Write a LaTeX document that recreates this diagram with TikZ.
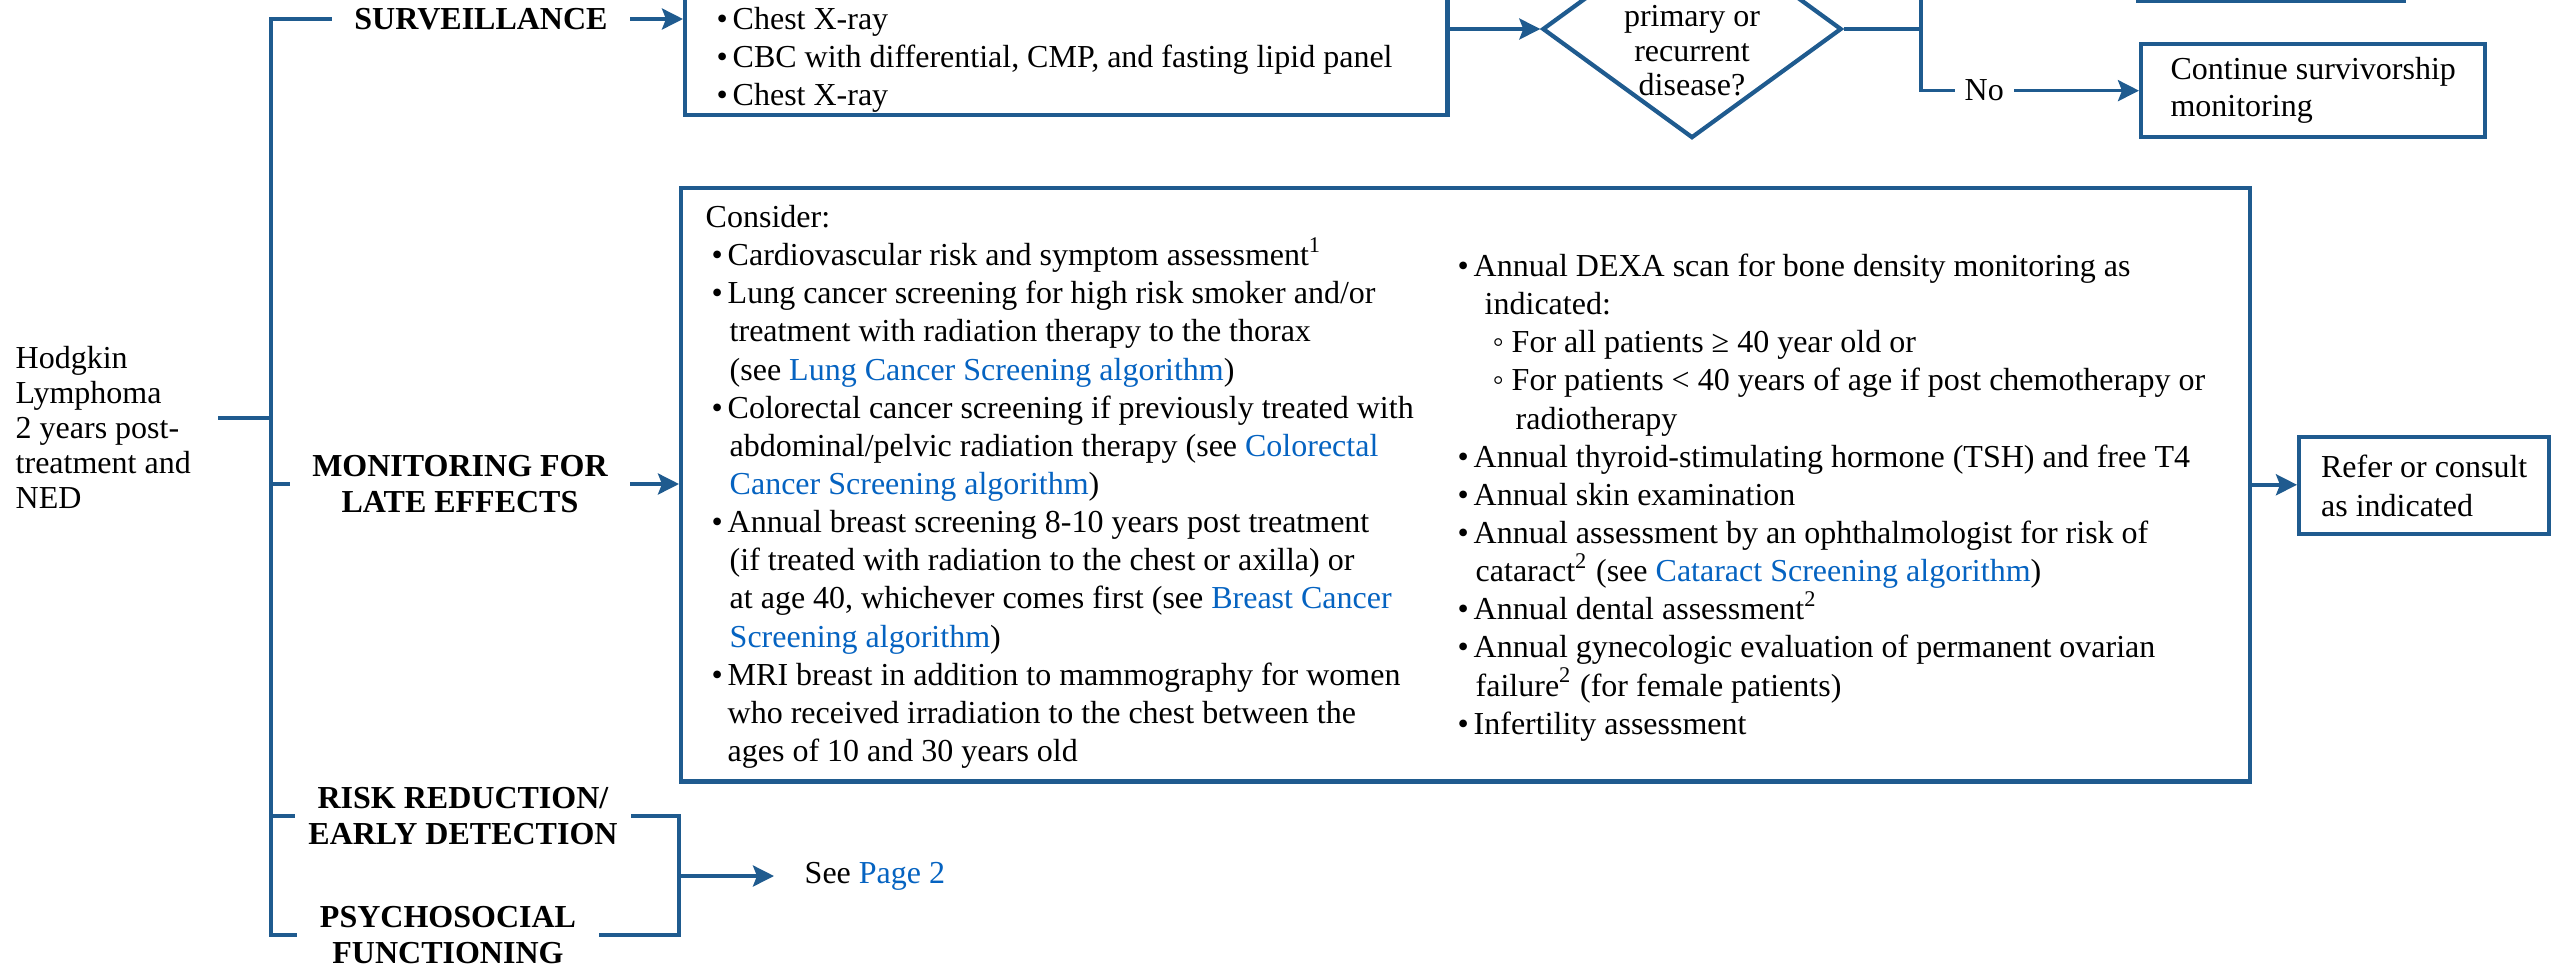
\documentclass[tikz,border=0pt]{standalone}
\usepackage{fontspec}
\setmainfont{Liberation Serif}
\usetikzlibrary{arrows.meta,shapes.geometric}
\definecolor{flowblue}{RGB}{31,91,143}
\definecolor{linkblue}{RGB}{5,99,193}
\newcommand{\lnk}[1]{\textcolor{linkblue}{#1}}
\newcommand{\bl}{\makebox[0.16cm][l]{\textbullet}}
\newcommand{\sbl}{\makebox[0.19cm][l]{◦}}
\newcommand{\fn}[1]{\smash{\textsuperscript{#1}}}
\newcommand{\bodyfont}{\fontsize{9.1pt}{10.85pt}\selectfont}
\newcommand{\headfont}{\fontsize{9.1pt}{10pt}\selectfont\bfseries}

\begin{document}
\begin{tikzpicture}[x=0.01cm,y=-0.01cm,
  line/.style={draw=flowblue,line width=1pt},
  arr/.style={line,-{Stealth[length=0.21cm,width=0.21cm,inset=0.04cm]}},
  box/.style={draw=flowblue,line width=1.2pt,inner sep=0,anchor=north west},
  plain/.style={font=\bodyfont,inner sep=0,align=left,anchor=north west},
  head/.style={font=\headfont,align=center,inner ysep=0,inner xsep=0.22cm}]
\useasboundingbox (0,0) rectangle (2553,966);
\clip (0,0) rectangle (2553,966);

\node[plain,inner xsep=0.27cm,font=\fontsize{9.1pt}{10pt}\selectfont] (hod) at (-12,343) {\strut Hodgkin\\Lymphoma\\2 years post-\\treatment and\\NED};

\node[head] (sv) at (481,19) {SURVEILLANCE};
\node[head] (mon) at (460,484) {MONITORING FOR\\LATE EFFECTS};
\node[head,inner xsep=0.13cm] (risk) at (463,816) {RISK REDUCTION/\\EARLY DETECTION};
\node[head] (psy) at (448,935) {PSYCHOSOCIAL\\FUNCTIONING};

\node[box,anchor=south west,minimum width=7.62cm,minimum height=1.8cm] (sbox) at (683,117) {};
\node[plain] (stxt) at (716,2) {\strut\bl Chest X-ray\\\bl CBC with differential, CMP, and fasting lipid panel\\\bl Chest X-ray};

\node[diamond,draw=flowblue,line width=1.2pt,inner sep=0,minimum width=2.99cm,minimum height=2.18cm,aspect=1.37] (dec) at (1692,29) {};
\node[font=\fontsize{9.1pt}{9.8pt}\selectfont,align=center,inner sep=0] (dtxt) at (1692,51) {primary or\\recurrent\\disease?};

\node[box,anchor=south west,minimum width=2.66cm,minimum height=0.6cm] (yesbox) at (2136,3) {};
\node[box,minimum width=3.44cm,minimum height=0.93cm,align=left,font=\fontsize{9.1pt}{10.5pt}\selectfont] (cont) at (2139,42) {Continue survivorship\\monitoring};

\node[box,minimum width=15.68cm,minimum height=5.93cm] (big) at (679,186) {};
\node[plain] (lcol) at (705,200) {\strut Consider:\\
\hspace*{0.06cm}\bl Cardiovascular risk and symptom assessment\fn{1}\\
\hspace*{0.06cm}\bl Lung cancer screening for high risk smoker and/or\\
\hspace*{0.24cm}treatment with radiation therapy to the thorax\\
\hspace*{0.24cm}(see \lnk{Lung Cancer Screening algorithm})\\
\hspace*{0.06cm}\bl Colorectal cancer screening if previously treated with\\
\hspace*{0.24cm}abdominal/pelvic radiation therapy (see \lnk{Colorectal}\\
\hspace*{0.24cm}\lnk{Cancer Screening algorithm})\\
\hspace*{0.06cm}\bl Annual breast screening 8-10 years post treatment\\
\hspace*{0.24cm}(if treated with radiation to the chest or axilla) or\\
\hspace*{0.24cm}at age 40, whichever comes first (see \lnk{Breast Cancer}\\
\hspace*{0.24cm}\lnk{Screening algorithm})\\
\hspace*{0.06cm}\bl MRI breast in addition to mammography for women\\
\hspace*{0.22cm}who received irradiation to the chest between the\\
\hspace*{0.22cm}ages of 10 and 30 years old};
\node[plain] (rcol) at (1457,249) {\strut\bl Annual DEXA scan for bone density monitoring as\\
\hspace*{0.27cm}indicated:\\
\hspace*{0.35cm}\sbl For all patients ≥ 40 year old or\\
\hspace*{0.35cm}\sbl For patients < 40 years of age if post chemotherapy or\\
\hspace*{0.58cm}radiotherapy\\
\bl Annual thyroid-stimulating hormone (TSH) and free T4\\
\bl Annual skin examination\\
\bl Annual assessment by an ophthalmologist for risk of\\
\hspace*{0.18cm}cataract\fn{2} (see \lnk{Cataract Screening algorithm})\\
\bl Annual dental assessment\fn{2}\\
\bl Annual gynecologic evaluation of permanent ovarian\\
\hspace*{0.18cm}failure\fn{2} (for female patients)\\
\bl Infertility assessment};

\node[box,minimum width=2.5cm,minimum height=0.97cm,align=left,font=\fontsize{9.1pt}{11pt}\selectfont] (ref) at (2297,435) {Refer or consult\\as indicated};
\node[plain,anchor=west,inner xsep=0.3cm] (see) at (774,876) {See \lnk{Page 2}};

\coordinate (lt) at (271,19);
\coordinate (lb) at (271,935);
\coordinate (hj) at (271,418);
\coordinate (rb) at (679,876);
\coordinate (ytop) at (1921,-30);

\draw[line] (sv.west) -- (lt) -- (lb) -- (psy.west);
\draw[line] (hj -| hod.east) -- (hj);
\draw[line] (mon.west) -- (mon.west -| lt);
\draw[line] (risk.west) -- (risk.west -| lt);
\draw[arr] (sv.east) -- (sv.east -| sbox.west);
\draw[arr] (mon.east) -- (mon.east -| big.west);
\draw[line] (risk.east) -- (risk.east -| rb) -- (psy.east -| rb) -- (psy.east);
\draw[arr] (rb) -- (see.west);
\draw[arr] (dec.west -| sbox.east) -- (dec.west);
\draw[line] (dec.east) -- (dec.east -| ytop);
\draw[arr] (ytop) |- node[pos=0.645,fill=white,font=\bodyfont,inner xsep=0.1cm,inner ysep=0] (no) {No} (cont.west);
\draw[arr] (big.east) -- (big.east -| ref.west);
\end{tikzpicture}
\end{document}
